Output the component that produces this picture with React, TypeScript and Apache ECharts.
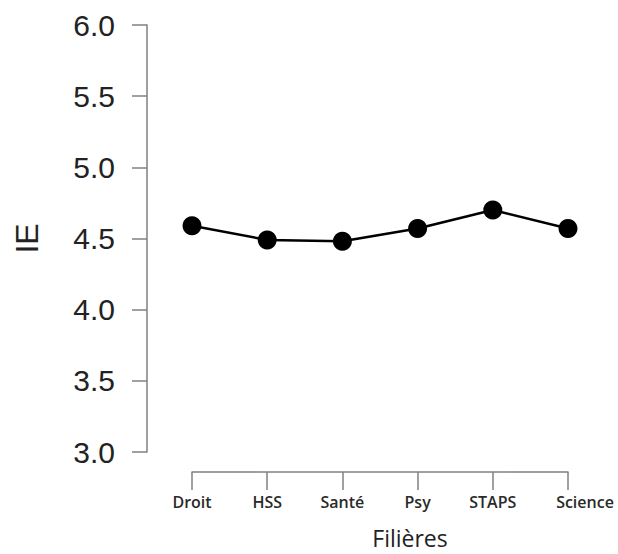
import React, { useEffect, useRef } from "react";
import * as echarts from "echarts";

const categories = ["Droit", "HSS", "Santé", "Psy", "STAPS", "Science"];
const ieValues = [4.59, 4.49, 4.48, 4.57, 4.7, 4.57];
const yMin = 3.0;
const yMax = 6.0;
const yStep = 0.5;
const xTitle = "Filières";
const yTitle = "IE";

export default function App() {
  const ref = useRef<HTMLDivElement>(null);
  useEffect(() => {
    if (!ref.current) return;
    const chart = echarts.init(ref.current, null, { renderer: "svg" });
    const labelBase = {
      fontFamily: "Open Sans",
      fontSize: 16,
      fontWeight: 600,
      color: "#2a2a2a",
    };
    chart.setOption({
      animation: false,
      backgroundColor: "#ffffff",
      grid: { left: 192, right: 50, top: 25, bottom: 93 },
      xAxis: {
        type: "category",
        data: categories,
        boundaryGap: false,
        offset: 20,
        axisLine: { show: true, lineStyle: { color: "#808080", width: 1.5 } },
        axisTick: {
          show: true,
          inside: false,
          length: 18,
          interval: 0,
          alignWithLabel: true,
          lineStyle: { color: "#808080", width: 1.5 },
        },
        axisLabel: {
          margin: 22,
          interval: 0,
          hideOverlap: false,
          ...labelBase,
          formatter: (v: string) => (v === "Science" ? `{s|${v}}` : `{n|${v}}`),
          rich: {
            n: { ...labelBase },
            s: { ...labelBase, padding: [0, 0, 0, 34] },
          },
        },
        splitLine: { show: false },
        name: xTitle,
        nameLocation: "middle",
        nameGap: 54,
        nameTextStyle: {
          fontFamily: "Open Sans",
          fontSize: 23,
          fontWeight: 500,
          color: "#222222",
          padding: [0, 0, 0, 60],
        },
      },
      yAxis: {
        type: "value",
        min: yMin,
        max: yMax,
        interval: yStep,
        offset: 45,
        axisLine: { show: true, lineStyle: { color: "#808080", width: 1.5 } },
        axisTick: { show: true, length: 15, lineStyle: { color: "#808080", width: 1.5 } },
        axisLabel: {
          margin: 32,
          fontFamily: "Liberation Sans",
          fontSize: 30,
          color: "#222222",
          formatter: (v: number) => v.toFixed(1),
        },
        splitLine: { show: false },
        name: yTitle,
        nameLocation: "middle",
        nameRotate: 90,
        nameGap: 104,
        nameTextStyle: {
          fontFamily: "Liberation Sans",
          fontSize: 32,
          color: "#222222",
        },
      },
      series: [
        {
          type: "line",
          data: ieValues,
          symbol: "circle",
          symbolSize: 19,
          lineStyle: { color: "#000000", width: 2.5 },
          itemStyle: { color: "#000000" },
        },
      ],
    });
    return () => chart.dispose();
  }, []);
  return (
    <div
      ref={ref}
      style={{ position: "fixed", left: 0, top: 0, width: 618, height: 554 }}
    />
  );
}
